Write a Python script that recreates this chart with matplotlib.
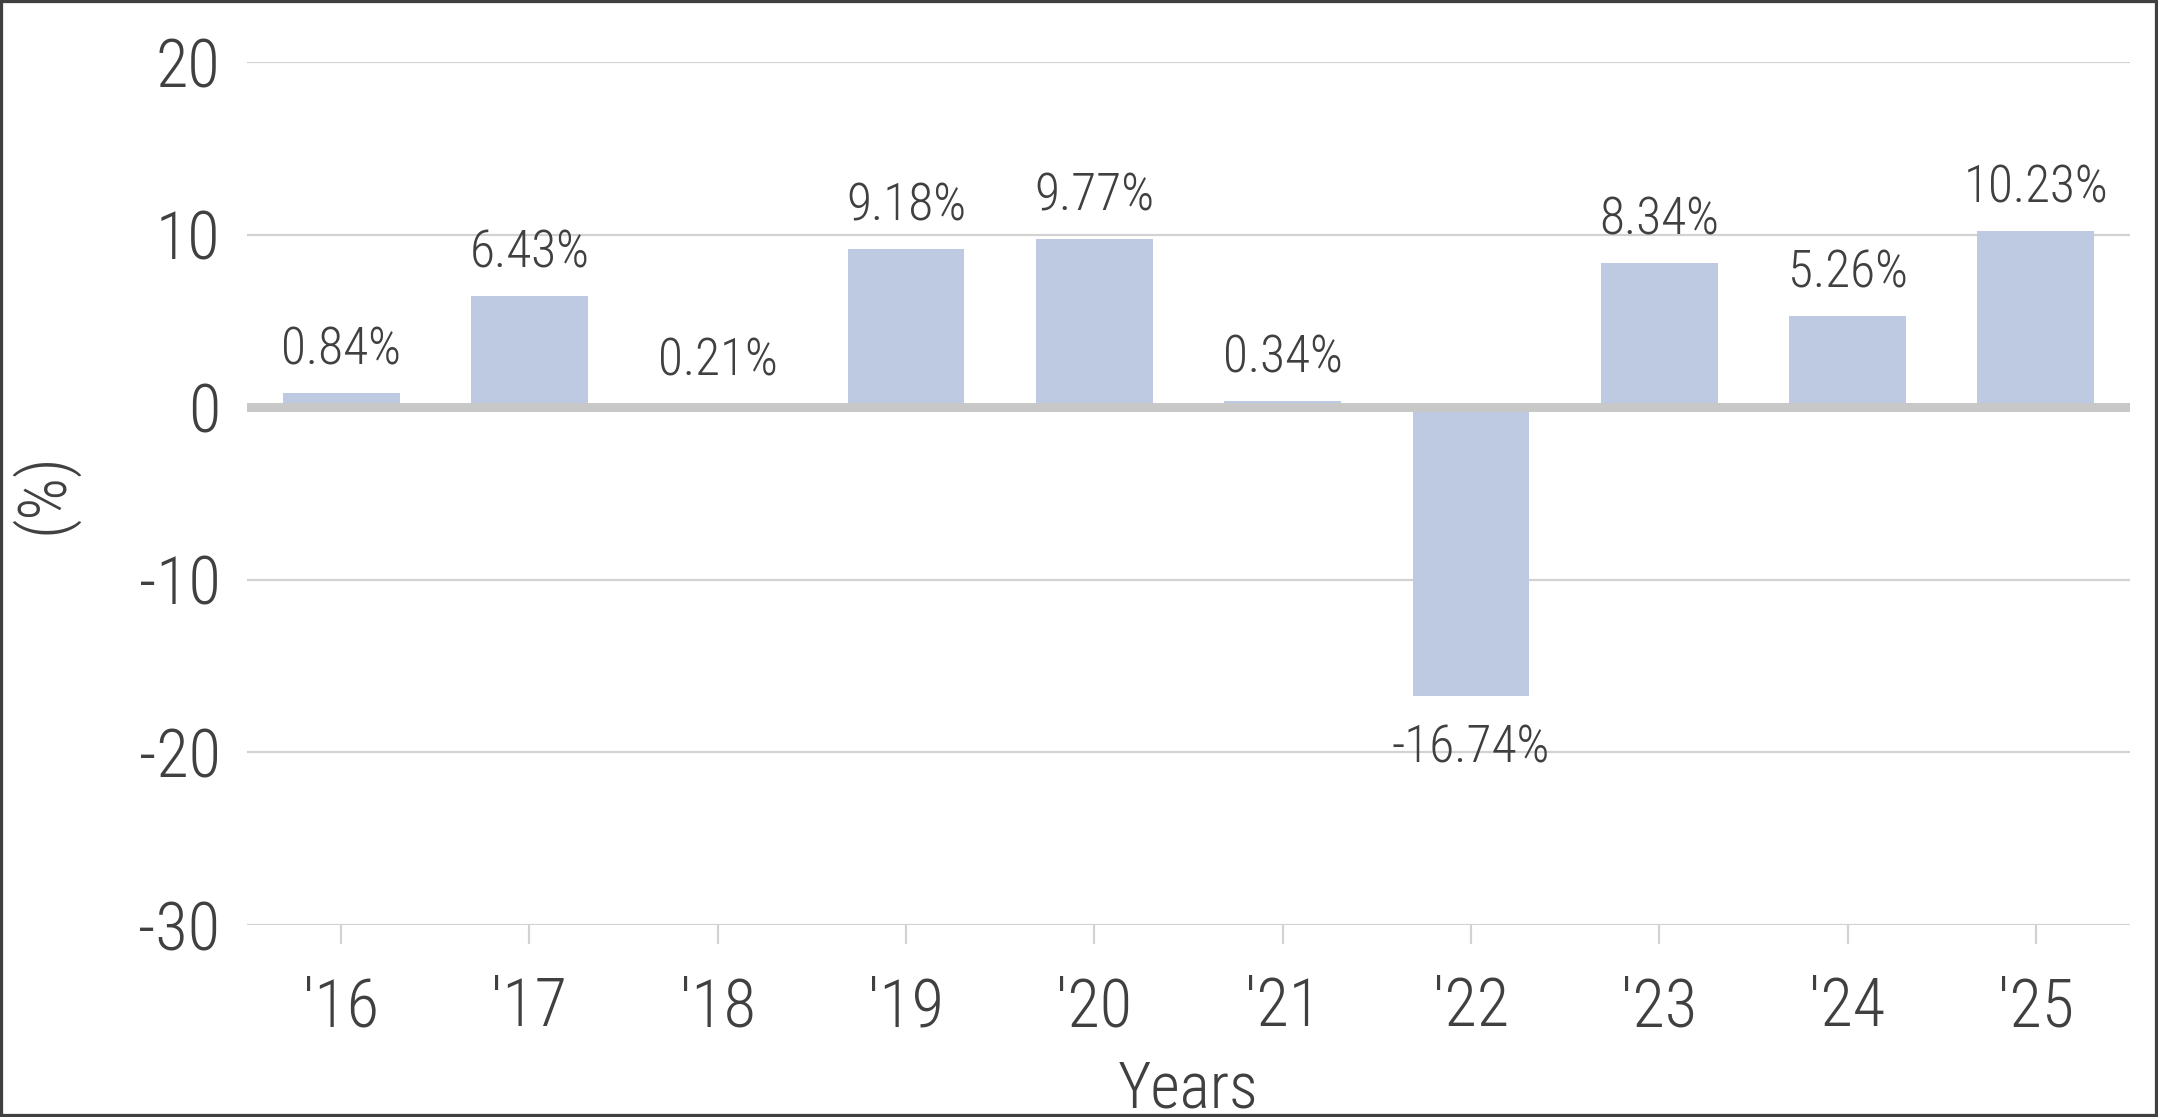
import matplotlib.pyplot as plt
from matplotlib.patches import Rectangle

# ── data ──────────────────────────────────────────────────────────────────────
years  = ["'16", "'17", "'18", "'19", "'20", "'21", "'22", "'23", "'24", "'25"]
values = [0.84, 6.43, 0.21, 9.18, 9.77, 0.34, -16.74, 8.34, 5.26, 10.23]
yticks = [-30, -20, -10, 0, 10, 20]

# ── style ─────────────────────────────────────────────────────────────────────
TXT  = "#404040"
BAR  = "#bdcae2"
GRID = "#d2d2d2"

plt.rcParams["font.family"] = ["Roboto Condensed", "DejaVu Sans"]
plt.rcParams["font.weight"] = "light"
plt.rcParams["font.stretch"] = "condensed"
plt.rcParams["axes.labelweight"] = "light"

fig = plt.figure(figsize=(21.58, 11.17), dpi=100)
ax = fig.add_axes([247 / 2158, 1 - 925 / 1117, (2130 - 247) / 2158, (925 - 62) / 1117])

x = range(len(years))
ax.bar(x, values, width=0.62, color=BAR, zorder=2)

ax.set_xlim(-0.5, len(years) - 0.5)
ax.set_ylim(-30, 20)

# gridlines + thick zero line
for v in yticks:
    if v == 0:
        ax.axhline(0, color="#c8c8c8", lw=6.5, zorder=3)
    else:
        ax.axhline(v, color=GRID, lw=1.6, zorder=1)

for s in ax.spines.values():
    s.set_visible(False)

ax.set_yticks(yticks)
ax.set_yticklabels([str(v) for v in yticks])
ax.set_xticks(list(x))
ax.set_xticklabels(years)
ax.tick_params(axis="y", length=0, pad=19, labelsize=48, labelcolor=TXT)
ax.tick_params(axis="x", length=14, width=1.6, color=GRID, pad=23,
               labelsize=48, labelcolor=TXT)

# value labels
for i, v in enumerate(values):
    if v >= 0:
        ax.annotate(f"{v:.2f}%", (i, v), xytext=(0, 20.5), textcoords="offset points",
                    ha="center", va="baseline", fontsize=37, color=TXT)
    else:
        ax.annotate(f"{v:.2f}%", (i, v), xytext=(0, -20), textcoords="offset points",
                    ha="center", va="top", fontsize=37, color=TXT)

ax.set_xlabel("Years", fontsize=46, color=TXT, fontweight="light", labelpad=13)
ax.set_ylabel("(%)", fontsize=48, color=TXT, fontweight="light", labelpad=44)

# outer frame
fig.add_artist(Rectangle((0, 0), 1, 1, transform=fig.transFigure, fill=False,
                         edgecolor="#404040", lw=4.5, clip_on=False))

plt.savefig("out.png", dpi=100)
